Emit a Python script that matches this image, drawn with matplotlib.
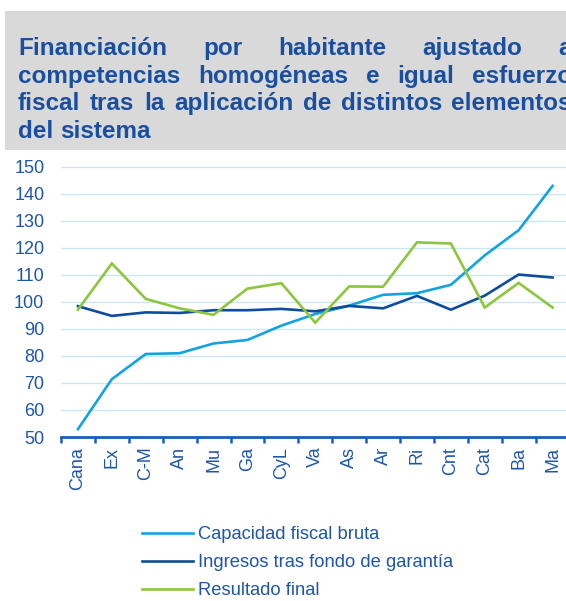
import matplotlib
matplotlib.use("Agg")
import matplotlib.pyplot as plt
from matplotlib.patches import Rectangle

plt.rcParams['font.family'] = ['Liberation Sans', 'DejaVu Sans']

categories = ["Cana", "Ex", "C-M", "An", "Mu", "Ga", "CyL", "Va", "As", "Ar", "Ri", "Cnt", "Cat", "Ba", "Ma"]
capacidad = [52.9, 71.4, 80.7, 81.0, 84.6, 85.9, 91.2, 95.5, 98.6, 102.6, 103.2, 106.3, 117.2, 126.5, 142.9]
ingresos = [98.4, 94.8, 96.1, 95.9, 96.9, 96.9, 97.4, 96.5, 98.5, 97.6, 102.2, 97.1, 102.3, 110.1, 109.0]
resultado = [97.1, 114.2, 101.1, 97.6, 95.2, 104.9, 106.9, 92.3, 105.7, 105.6, 122.0, 121.6, 97.9, 107.0, 97.9]
series_names = ["Capacidad fiscal bruta", "Ingresos tras fondo de garantía", "Resultado final"]
yticks = list(range(50, 151, 10))
title_lines = ["Financiación por habitante ajustado a",
               "competencias homogéneas e igual esfuerzo",
               "fiscal tras la aplicación de distintos elementos",
               "del sistema"]

W, H = 566, 601
DPI = 100
fig = plt.figure(figsize=(W / DPI, H / DPI), dpi=DPI)

c_light = "#12A3E0"
c_dark = "#0E4D9E"
c_green = "#8CC63E"
c_text = "#1F56A8"
c_title = "#1A4F9F"
c_grid = "#C9E8F6"
c_axis = "#1C5CB8"

# Title box
fig.patches.append(Rectangle((5 / W, 1 - 150 / H), 561 / W, 139 / H,
                             transform=fig.transFigure, facecolor="#D9D9D9",
                             edgecolor="none", zorder=0))

# Justified title
TFS = 17.5
renderer = fig.canvas.get_renderer()
x_left, x_right = 18, 572
base_ys = [55, 83, 110, 137.5]


def text_width(s):
    t = fig.text(0, 0, s, fontsize=TFS, fontweight="bold")
    w = t.get_window_extent(renderer).width
    t.remove()
    return w


space_w = text_width("a a") - text_width("aa")
for li, line in enumerate(title_lines):
    words = line.split(" ")
    texts = []
    widths = []
    for w in words:
        t = fig.text(0, 0, w, fontsize=TFS, fontweight="bold", color=c_title,
                     ha="left", va="baseline")
        texts.append(t)
        widths.append(t.get_window_extent(renderer).width)
    last = li == len(title_lines) - 1
    if last or len(words) == 1:
        gap = space_w
    else:
        gap = (x_right - x_left - sum(widths)) / (len(words) - 1)
    x = x_left
    for t, w in zip(texts, widths):
        t.set_position((x / W, 1 - base_ys[li] / H))
        x += w + gap

# Axes
ax_left, ax_right = 61, 569.5
ax_top, ax_bot = 166.7, 437
ax = fig.add_axes([ax_left / W, 1 - ax_bot / H, (ax_right - ax_left) / W, (ax_bot - ax_top) / H])
x = list(range(len(categories)))
l1, = ax.plot(x, capacidad, color=c_light, lw=1.9, solid_joinstyle="miter", zorder=3)
l2, = ax.plot(x, ingresos, color=c_dark, lw=1.9, solid_joinstyle="miter", zorder=3)
l3, = ax.plot(x, resultado, color=c_green, lw=1.9, solid_joinstyle="miter", zorder=3)

ax.set_xlim(-0.5, len(categories) - 0.5)
ax.set_ylim(50, 150)
ax.set_yticks(yticks)
for yv in yticks[1:]:
    ax.axhline(yv, color=c_grid, lw=1.0, zorder=1)
ax.set_xticks(x)
ax.set_xticklabels(categories, rotation=90, fontsize=13, color=c_text)
ax.set_xticks([i - 0.5 for i in range(len(categories) + 1)], minor=True)
ax.tick_params(axis="x", which="major", length=0, pad=7)
ax.tick_params(axis="x", which="minor", length=4, width=1.8, color=c_axis, direction="out")
ax.tick_params(axis="y", length=0, labelsize=13, labelcolor=c_text, pad=12)
for s in ["top", "right", "left"]:
    ax.spines[s].set_visible(False)
ax.spines["bottom"].set_color(c_axis)
ax.spines["bottom"].set_linewidth(2.0)
ax.patch.set_alpha(0)

fig.legend([l1, l2, l3], series_names, loc="upper left",
           bbox_to_anchor=(142 / W, 1 - 526 / H), frameon=False,
           borderpad=0, borderaxespad=0,
           fontsize=13.2, labelcolor=c_text, handlelength=2.8, handletextpad=0.27,
           labelspacing=0.6)

fig.savefig("out.png", dpi=DPI)
